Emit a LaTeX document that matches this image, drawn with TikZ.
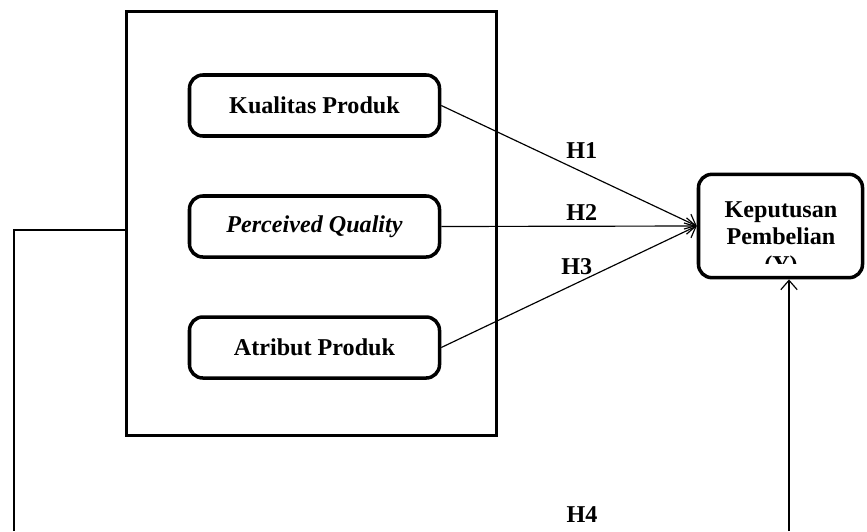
\documentclass[tikz,border=0pt]{standalone}
\usepackage{fontspec}
\setmainfont{Liberation Serif}
\usetikzlibrary{arrows.meta, positioning}

\begin{document}
\begin{tikzpicture}[->, >={Straight Barb[length=8pt,width=14pt]}, x=0.03cm, y=-0.03cm, node distance=3.63cm, on grid, line width=1pt]
      \tikzstyle{var}=[draw=black, line width=3pt, rounded corners=0.4cm, minimum width=7.5cm, minimum height=1.83cm, font=\fontsize{20.6}{23.5}\selectfont\bfseries]
      \tikzstyle{hyp}=[font=\fontsize{20.6}{23.5}\selectfont\bfseries]
      \useasboundingbox (0,0) rectangle (867,531);
      \node[draw=black, line width=3.2pt, minimum width=11.1cm, minimum height=12.72cm] (G) at (311.5,223.5) {};
      \node[var] (K) at (314.5,105.5) {Kualitas Produk};
      \node[var] (P) [below = of K] {\textit{Perceived Quality}};
      \node[var] (A) [below = of P] {Atribut Produk};
      \node[var, minimum width=4.92cm, minimum height=3.1cm] (Y) at (780.5,226) {};
      \begin{scope}
        \clip (700,176) rectangle (862,263);
        \node[hyp, align=center, anchor=north] (Ytext) at (781,197) {Keputusan\\Pembelian\\(Y)};
      \end{scope}
      \coordinate (L1) at (14,230);
      \coordinate (L2) at (14,531);
      \coordinate (R1) at (789,531);
      \path (K.east) edge node[hyp, pos=0.55, above=0.25cm] {H1} (Y.west);
      \path (P.east) edge node[hyp, pos=0.55, above=0.05cm] {H2} (Y.west);
      \path (A.east) edge node[hyp, pos=0.53, above=0.12cm] {H3} (Y.west);
      \draw[-] (G.west |- L1) -- (L1) -- (L2);
      \draw (R1) -- (Y.south -| R1);
      \node[hyp] (H4) at (582,515) {H4};
    \end{tikzpicture}
\end{document}
